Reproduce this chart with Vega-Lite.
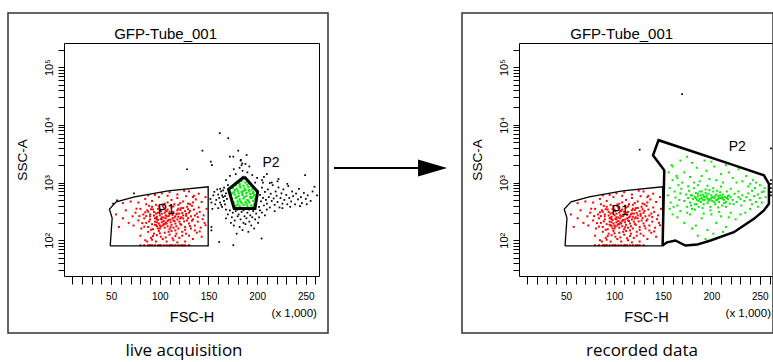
{
"$schema": "https://vega.github.io/schema/vega-lite/v6.json",
"padding": {"left": 6, "top": 11, "right": 0, "bottom": 0},
"spacing": 200,
"bounds": "flush",
"config": {"font": "Liberation Sans", "view": {"stroke": "#000", "strokeWidth": 1}, "axis": {"labelOverlap": false}},
"datasets": {
"red": [{"x":102,"y":650},{"x":118,"y":620},{"x":130,"y":700},{"x":95,"y":610},{"x":140,"y":640},{"x":125,"y":720},{"x":88,"y":600},{"x":110,"y":680},{"x":135,"y":590},
{"x":78,"y":450},{"x":85,"y":520},{"x":92,"y":480},{"x":99,"y":560},{"x":105,"y":430},{"x":112,"y":500},{"x":118,"y":540},{"x":124,"y":470},{"x":131,"y":420},{"x":137,"y":510},{"x":143,"y":460},{"x":147,"y":560},{"x":96,"y":410},{"x":108,"y":590},{"x":115,"y":420},{"x":127,"y":580},{"x":86,"y":420},{"x":70,"y":470},{"x":62,"y":440},{"x":121,"y":440},{"x":134,"y":560},
{"x":75,"y":300},{"x":80,"y":350},{"x":83,"y":280},{"x":87,"y":330},{"x":90,"y":260},{"x":92,"y":380},{"x":94,"y":310},{"x":96,"y":290},{"x":98,"y":350},{"x":100,"y":270},{"x":101,"y":320},{"x":103,"y":390},{"x":105,"y":300},{"x":107,"y":260},{"x":108,"y":340},{"x":110,"y":280},{"x":112,"y":370},{"x":114,"y":310},{"x":116,"y":260},{"x":118,"y":330},{"x":120,"y":290},{"x":122,"y":360},{"x":124,"y":270},{"x":126,"y":320},{"x":128,"y":380},{"x":130,"y":300},{"x":132,"y":260},{"x":135,"y":340},{"x":138,"y":290},{"x":141,"y":310},{"x":145,"y":270},{"x":148,"y":350},{"x":65,"y":330},{"x":55,"y":280},{"x":72,"y":260},{"x":89,"y":395},{"x":97,"y":255},{"x":104,"y":365},{"x":111,"y":395},{"x":119,"y":255},{"x":127,"y":265},{"x":133,"y":395},{"x":140,"y":370},{"x":85,"y":305},{"x":91,"y":345},{"x":99,"y":385},{"x":106,"y":325},{"x":113,"y":275},{"x":121,"y":335},{"x":129,"y":345},
{"x":73,"y":180},{"x":78,"y":220},{"x":81,"y":160},{"x":84,"y":240},{"x":86,"y":200},{"x":88,"y":170},{"x":90,"y":230},{"x":92,"y":190},{"x":93,"y":155},{"x":95,"y":210},{"x":96,"y":245},{"x":97,"y":175},{"x":98,"y":225},{"x":99,"y":195},{"x":100,"y":160},{"x":101,"y":235},{"x":102,"y":205},{"x":103,"y":180},{"x":104,"y":215},{"x":105,"y":165},{"x":106,"y":240},{"x":107,"y":195},{"x":108,"y":175},{"x":109,"y":225},{"x":110,"y":155},{"x":111,"y":205},{"x":112,"y":185},{"x":113,"y":240},{"x":114,"y":165},{"x":115,"y":215},{"x":116,"y":195},{"x":117,"y":175},{"x":118,"y":230},{"x":119,"y":160},{"x":120,"y":210},{"x":122,"y":185},{"x":124,"y":240},{"x":126,"y":170},{"x":128,"y":220},{"x":130,"y":195},{"x":132,"y":160},{"x":134,"y":230},{"x":136,"y":180},{"x":139,"y":210},{"x":142,"y":165},{"x":146,"y":200},{"x":68,"y":200},{"x":62,"y":240},{"x":58,"y":170},{"x":95,"y":185},{"x":98,"y":160},{"x":102,"y":250},{"x":105,"y":190},{"x":108,"y":215},{"x":100,"y":180},{"x":97,"y":205},
{"x":80,"y":120},{"x":85,"y":100},{"x":88,"y":140},{"x":91,"y":110},{"x":94,"y":130},{"x":96,"y":95},{"x":99,"y":145},{"x":101,"y":115},{"x":103,"y":105},{"x":105,"y":135},{"x":107,"y":95},{"x":110,"y":125},{"x":112,"y":145},{"x":114,"y":100},{"x":117,"y":130},{"x":120,"y":110},{"x":123,"y":140},{"x":126,"y":95},{"x":130,"y":120},{"x":134,"y":105},{"x":138,"y":135},{"x":143,"y":115},{"x":93,"y":118},{"x":106,"y":112},{"x":116,"y":118},{"x":127,"y":130},{"x":87,"y":95},{"x":100,"y":132},
{"x":80,"y":82},{"x":84,"y":82},{"x":88,"y":82},{"x":92,"y":82},{"x":95,"y":82},{"x":98,"y":82},{"x":101,"y":82},{"x":104,"y":82},{"x":107,"y":82},{"x":110,"y":82},{"x":113,"y":82},{"x":116,"y":82},{"x":119,"y":82},{"x":122,"y":82},{"x":126,"y":82},{"x":130,"y":82},{"x":90,"y":82},{"x":100,"y":82},{"x":111,"y":82},{"x":124,"y":82},
{"x":89,"y":212},{"x":94,"y":268},{"x":97,"y":232},{"x":102,"y":288},{"x":104,"y":248},{"x":107,"y":318},{"x":109,"y":262},{"x":111,"y":228},{"x":113,"y":302},{"x":115,"y":248},{"x":117,"y":282},{"x":119,"y":352},{"x":121,"y":238},{"x":123,"y":298},{"x":125,"y":212},{"x":127,"y":286},{"x":129,"y":242},{"x":131,"y":322},{"x":133,"y":218},{"x":136,"y":268},{"x":91,"y":152},{"x":96,"y":182},{"x":101,"y":172},{"x":106,"y":202},{"x":111,"y":168},{"x":116,"y":148},{"x":121,"y":192},{"x":126,"y":152},{"x":131,"y":176},{"x":136,"y":148},{"x":86,"y":262},{"x":82,"y":198},{"x":88,"y":312},{"x":93,"y":342},{"x":103,"y":418},{"x":108,"y":452},{"x":114,"y":386},{"x":119,"y":412},{"x":124,"y":362},{"x":129,"y":432},{"x":134,"y":452},{"x":139,"y":252},{"x":144,"y":232},{"x":147,"y":182},{"x":141,"y":142},{"x":92,"y":102},{"x":97,"y":122},{"x":113,"y":108},{"x":118,"y":92},{"x":123,"y":120},{"x":98,"y":300},{"x":102,"y":230},{"x":106,"y":270},{"x":110,"y":310},{"x":114,"y":220},{"x":118,"y":290},{"x":122,"y":250},{"x":100,"y":340},{"x":104,"y":190},{"x":109,"y":140},{"x":95,"y":240},{"x":90,"y":280},{"x":84,"y":172},{"x":79,"y":262},{"x":76,"y":352}],
"gL": [{"x":178,"y":400},{"x":182,"y":390},{"x":186,"y":410},{"x":190,"y":395},{"x":194,"y":400},{"x":197,"y":420},{"x":176,"y":450},{"x":180,"y":470},{"x":184,"y":440},{"x":188,"y":460},{"x":192,"y":450},{"x":196,"y":480},{"x":174,"y":520},{"x":178,"y":540},{"x":182,"y":510},{"x":186,"y":530},{"x":190,"y":500},{"x":194,"y":540},{"x":198,"y":520},{"x":173,"y":600},{"x":177,"y":620},{"x":181,"y":580},{"x":185,"y":610},{"x":189,"y":590},{"x":193,"y":630},{"x":197,"y":600},{"x":172,"y":700},{"x":176,"y":680},{"x":180,"y":720},{"x":184,"y":690},{"x":188,"y":740},{"x":192,"y":700},{"x":196,"y":680},{"x":175,"y":800},{"x":179,"y":780},{"x":183,"y":820},{"x":187,"y":790},{"x":191,"y":830},{"x":195,"y":760},{"x":178,"y":900},{"x":182,"y":940},{"x":186,"y":880},{"x":190,"y":920},{"x":194,"y":870},{"x":184,"y":1050},{"x":188,"y":1000},{"x":186,"y":1150},{"x":181,"y":1000},{"x":192,"y":980},{"x":179,"y":560},{"x":187,"y":560},{"x":195,"y":560},{"x":183,"y":470},{"x":191,"y":480},{"x":177,"y":390},{"x":196,"y":385},{"x":185,"y":650},{"x":189,"y":660},{"x":181,"y":650},{"x":177,"y":740},{"x":193,"y":560},{"x":186,"y":720},{"x":182,"y":860},{"x":189,"y":430},{"x":196,"y":650},{"x":174,"y":650},{"x":180,"y":420},{"x":192,"y":740}],
"kL": [{"x":158,"y":500},{"x":160,"y":620},{"x":162,"y":450},{"x":163,"y":700},{"x":164,"y":380},{"x":165,"y":560},{"x":166,"y":820},{"x":167,"y":420},{"x":168,"y":650},{"x":169,"y":520},{"x":160,"y":360},{"x":162,"y":780},{"x":164,"y":600},{"x":166,"y":480},{"x":168,"y":340},{"x":170,"y":900},{"x":161,"y":540},{"x":163,"y":410},{"x":165,"y":730},{"x":167,"y":580},{"x":155,"y":600},{"x":157,"y":420},{"x":159,"y":760},{"x":152,"y":520},{"x":153,"y":450},{"x":154,"y":350},{"x":156,"y":690},
{"x":172,"y":330},{"x":175,"y":300},{"x":178,"y":320},{"x":181,"y":280},{"x":184,"y":310},{"x":187,"y":260},{"x":190,"y":300},{"x":193,"y":270},{"x":196,"y":320},{"x":199,"y":290},{"x":202,"y":250},{"x":174,"y":250},{"x":177,"y":220},{"x":180,"y":260},{"x":183,"y":230},{"x":186,"y":200},{"x":189,"y":240},{"x":192,"y":210},{"x":195,"y":250},{"x":198,"y":230},{"x":201,"y":200},{"x":176,"y":180},{"x":182,"y":170},{"x":188,"y":190},{"x":194,"y":180},{"x":185,"y":150},{"x":191,"y":140},{"x":179,"y":130},{"x":197,"y":160},{"x":170,"y":280},{"x":168,"y":240},{"x":173,"y":200},{"x":205,"y":300},{"x":208,"y":270},{"x":180,"y":340},{"x":186,"y":330},{"x":192,"y":340},{"x":198,"y":345},{"x":203,"y":330},
{"x":202,"y":380},{"x":203,"y":610},{"x":204,"y":470},{"x":205,"y":820},{"x":206,"y":540},{"x":207,"y":400},{"x":208,"y":690},{"x":209,"y":500},{"x":210,"y":430},{"x":211,"y":760},{"x":212,"y":560},{"x":213,"y":370},{"x":214,"y":640},{"x":215,"y":480},{"x":216,"y":900},{"x":217,"y":530},{"x":218,"y":410},{"x":219,"y":700},{"x":220,"y":590},{"x":221,"y":460},{"x":222,"y":820},{"x":223,"y":370},{"x":224,"y":540},{"x":225,"y":650},{"x":226,"y":430},{"x":227,"y":760},{"x":228,"y":500},{"x":230,"y":610},{"x":231,"y":420},{"x":232,"y":870},{"x":233,"y":540},{"x":235,"y":470},{"x":236,"y":700},{"x":237,"y":580},{"x":239,"y":420},{"x":240,"y":640},{"x":242,"y":510},{"x":243,"y":780},{"x":245,"y":560},{"x":246,"y":440},{"x":248,"y":660},{"x":250,"y":520},{"x":252,"y":600},{"x":255,"y":480},{"x":257,"y":700},{"x":210,"y":340},{"x":218,"y":320},{"x":226,"y":360},{"x":234,"y":380},{"x":244,"y":390},{"x":213,"y":980},{"x":221,"y":1050},{"x":231,"y":950},{"x":206,"y":1000},{"x":251,"y":420},
{"x":178,"y":1400},{"x":182,"y":1800},{"x":185,"y":1600},{"x":190,"y":1500},{"x":188,"y":2100},{"x":195,"y":1350},{"x":176,"y":1700},{"x":192,"y":1900},{"x":200,"y":1200},{"x":205,"y":1100},{"x":210,"y":1400},{"x":215,"y":1000},{"x":172,"y":1300},{"x":168,"y":1100},{"x":183,"y":2400},{"x":198,"y":1000},{"x":207,"y":1250},{"x":222,"y":1150},
{"x":161.6,"y":7180},{"x":170.3,"y":5870},{"x":143.8,"y":3570},{"x":128,"y":1700},{"x":152.4,"y":2300},{"x":153.5,"y":2000},{"x":180.6,"y":3570},{"x":172,"y":2810},{"x":175.5,"y":2810},{"x":183.3,"y":2460},{"x":184.7,"y":2150},{"x":189.2,"y":3000},{"x":184,"y":2000},{"x":249.3,"y":1350},{"x":259,"y":845},{"x":261.6,"y":600},{"x":204.6,"y":107},{"x":175.5,"y":82},{"x":161,"y":93},{"x":153,"y":170},{"x":153,"y":148},{"x":73.4,"y":650},{"x":52,"y":430},{"x":56,"y":490}],
"gR": [{"x":172,"y":480},{"x":174,"y":620},{"x":175,"y":380},{"x":176,"y":540},{"x":177,"y":720},{"x":178,"y":450},{"x":179,"y":600},{"x":180,"y":350},{"x":181,"y":520},{"x":182,"y":800},{"x":183,"y":420},{"x":184,"y":660},{"x":185,"y":500},{"x":186,"y":580},{"x":187,"y":380},{"x":188,"y":700},{"x":189,"y":460},{"x":190,"y":540},{"x":191,"y":620},{"x":192,"y":420},{"x":193,"y":500},{"x":194,"y":760},{"x":195,"y":560},{"x":196,"y":440},{"x":197,"y":640},{"x":198,"y":520},{"x":199,"y":380},{"x":200,"y":600},{"x":201,"y":480},{"x":202,"y":700},{"x":203,"y":540},{"x":204,"y":420},{"x":205,"y":620},{"x":206,"y":500},{"x":207,"y":580},{"x":208,"y":460},{"x":209,"y":680},{"x":210,"y":540},{"x":211,"y":400},{"x":212,"y":620},{"x":213,"y":500},{"x":214,"y":560},{"x":215,"y":460},{"x":216,"y":700},{"x":217,"y":520},{"x":218,"y":600},{"x":219,"y":430},{"x":220,"y":560},{"x":222,"y":500},{"x":224,"y":640},{"x":226,"y":460},{"x":228,"y":560},{"x":230,"y":520},{"x":232,"y":600},{"x":234,"y":480},{"x":236,"y":560},{"x":183,"y":560},{"x":187,"y":480},{"x":191,"y":500},{"x":195,"y":600},{"x":199,"y":500},{"x":203,"y":460},{"x":207,"y":520},{"x":211,"y":560},{"x":185,"y":420},{"x":189,"y":600},{"x":193,"y":560},{"x":197,"y":480},{"x":201,"y":560},{"x":205,"y":500},{"x":209,"y":600},{"x":213,"y":440},{"x":217,"y":580},{"x":180,"y":600},{"x":184,"y":540},{"x":188,"y":520},{"x":192,"y":580},{"x":196,"y":520},{"x":200,"y":540},{"x":204,"y":580},{"x":208,"y":540},{"x":212,"y":520},{"x":216,"y":540},{"x":186,"y":640},{"x":190,"y":700},{"x":194,"y":660},{"x":198,"y":740},{"x":202,"y":800},{"x":206,"y":720},{"x":179,"y":400},{"x":183,"y":340},{"x":191,"y":360},{"x":199,"y":330},{"x":207,"y":370},{"x":215,"y":380},{"x":223,"y":420},{"x":231,"y":400},{"x":176,"y":860},{"x":186,"y":900},{"x":196,"y":880},{"x":210,"y":850},{"x":220,"y":780},{"x":228,"y":700},{"x":238,"y":650},{"x":240,"y":500},{"x":244,"y":580},{"x":248,"y":620},{"x":242,"y":720},{"x":246,"y":460},{"x":250,"y":540},{"x":252,"y":680},
{"x":165,"y":1200},{"x":172,"y":1500},{"x":180,"y":2200},{"x":185,"y":1800},{"x":190,"y":1300},{"x":195,"y":1600},{"x":200,"y":2300},{"x":205,"y":1100},{"x":210,"y":1400},{"x":215,"y":2000},{"x":222,"y":1200},{"x":228,"y":1700},{"x":175,"y":2800},{"x":168,"y":2400},{"x":160,"y":1900},{"x":188,"y":1050},{"x":198,"y":1150},{"x":212,"y":1000},{"x":232,"y":1050},{"x":240,"y":950},{"x":178,"y":1250},{"x":193,"y":2400},{"x":203,"y":1900},{"x":218,"y":1500},{"x":226,"y":1000},{"x":170,"y":1000},{"x":182,"y":1000},{"x":246,"y":1000},{"x":236,"y":1300},
{"x":165,"y":250},{"x":172,"y":200},{"x":178,"y":280},{"x":184,"y":180},{"x":190,"y":240},{"x":196,"y":150},{"x":200,"y":280},{"x":205,"y":200},{"x":210,"y":260},{"x":215,"y":170},{"x":220,"y":300},{"x":225,"y":230},{"x":230,"y":280},{"x":186,"y":120},{"x":194,"y":105},{"x":202,"y":130},{"x":212,"y":140},{"x":180,"y":160},{"x":175,"y":300},{"x":168,"y":320},{"x":160,"y":280},{"x":157,"y":350},{"x":192,"y":290},{"x":208,"y":310},{"x":218,"y":250},{"x":235,"y":300},{"x":240,"y":350},
{"x":155,"y":600},{"x":157,"y":800},{"x":158,"y":450},{"x":160,"y":1100},{"x":162,"y":700},{"x":163,"y":550},{"x":165,"y":400},{"x":166,"y":900},{"x":168,"y":650},{"x":169,"y":780},{"x":156,"y":1500},{"x":159,"y":2000},{"x":164,"y":1300},{"x":167,"y":500},{"x":161,"y":380},
{"x":245,"y":800},{"x":250,"y":900},{"x":254,"y":700},{"x":256,"y":560},{"x":252,"y":450},{"x":248,"y":380},{"x":243,"y":1100},{"x":255,"y":800},{"x":238,"y":860},{"x":242,"y":420}],
"kR": [{"x":126,"y":3710},{"x":169.8,"y":34000},{"x":261.5,"y":3900},{"x":261.5,"y":1100},{"x":261.5,"y":950},{"x":261.5,"y":800},{"x":261.5,"y":680},{"x":261.5,"y":600}],
"p1": [{"i":0,"x":49,"y":80},{"i":1,"x":149.7,"y":80},{"i":2,"x":149.7,"y":845},{"i":3,"x":108.5,"y":720},{"i":4,"x":74,"y":566},{"i":5,"x":55.2,"y":464},{"i":6,"x":48.2,"y":346},{"i":7,"x":51,"y":242},{"i":8,"x":50,"y":138},{"i":9,"x":49,"y":80}],
"p2L": [{"i":0,"x":186.8,"y":1262},{"i":1,"x":200.5,"y":692},{"i":2,"x":197.8,"y":356},{"i":3,"x":176.4,"y":356},{"i":4,"x":170.6,"y":762},{"i":5,"x":186.8,"y":1262}],
"p2R": [{"i":0,"x":149.7,"y":81},{"i":1,"x":151.4,"y":1630},{"i":2,"x":139.8,"y":2970},{"i":3,"x":145.5,"y":5420},{"i":4,"x":221.5,"y":2040},{"i":5,"x":254.2,"y":1335},{"i":6,"x":259.4,"y":953},{"i":7,"x":259.4,"y":428},{"i":8,"x":254.2,"y":329},{"i":9,"x":243.9,"y":235},{"i":10,"x":223.2,"y":138},{"i":11,"x":199.1,"y":99},{"i":12,"x":185.3,"y":84},{"i":13,"x":173.2,"y":81},{"i":14,"x":162.8,"y":99},{"i":15,"x":154.2,"y":92},{"i":16,"x":149.7,"y":81}],
"labL": [{"t":"P1","x":106.7,"y":333},{"t":"P2","x":214.2,"y":2160}],
"labR": [{"t":"P1","x":105.9,"y":315},{"t":"P2","x":226.7,"y":4140}]
},
"hconcat": [
{
"width": 255, "height": 233,
"resolve": {"axis": {"x": "independent", "y": "independent"}},
"layer": [
{"data": {"values": [{}]}, "mark": {"type": "rect", "filled": false, "color": "#333", "stroke": "#333", "strokeWidth": 1.5, "clip": false},
 "encoding": {"x": {"datum": -56.06, "type": "quantitative", "axis": null}, "x2": {"datum": 272.85}, "y": {"datum": 867800, "type": "quantitative", "scale": {"type": "log"}, "axis": null}, "y2": {"datum": 2.47}}},
{"data": {"name": "red"}, "mark": {"type": "square", "size": 4, "color": "#ff0000", "opacity": 1},
 "encoding": {
  "x": {"field": "x", "type": "quantitative", "scale": {"domain": [1.5, 263.6], "nice": false, "zero": false},
   "axis": {"orient": "bottom", "title": "FSC-H", "values": [50,100,150,200,250], "tickCount": 100, "tickSize": 8, "tickColor": "#000", "domain": false, "grid": false, "labelFontSize": 10, "labelColor": "#000", "labelPadding": 7, "labelOverlap": false, "labelFlush": false, "titleFontSize": 14.5, "titleFontWeight": "normal", "titleColor": "#000", "titlePadding": 9}},
  "y": {"field": "y", "type": "quantitative", "scale": {"type": "log", "domain": [24, 262144], "nice": false},
   "axis": {"orient": "left", "title": "SSC-A", "values": [100,1000,10000,100000], "tickCount": 100, "labelExpr": "datum.value === 100 ? '10²' : datum.value === 1000 ? '10³' : datum.value === 10000 ? '10⁴' : '10⁵'", "labelAngle": 270, "labelAlign": "center", "labelBaseline": "bottom", "tickSize": 6, "tickColor": "#000", "domain": false, "grid": false, "labelFontSize": 11, "labelColor": "#000", "labelPadding": 4, "labelOverlap": false, "labelFlush": false, "titleFontSize": 13.5, "titleFontWeight": "normal", "titleColor": "#000", "titlePadding": 14}}}},
{"data": {"name": "gL"}, "mark": {"type": "square", "size": 5, "color": "#00ee00", "opacity": 1},
 "encoding": {"x": {"field": "x", "type": "quantitative", "axis": null}, "y": {"field": "y", "type": "quantitative", "scale": {"type": "log"}, "axis": null}}},
{"data": {"name": "kL"}, "mark": {"type": "square", "size": 3, "color": "#000", "opacity": 1},
 "encoding": {
  "x": {"field": "x", "type": "quantitative", "axis": {"orient": "bottom", "title": null, "labels": false, "values": [10,20,30,40,50,60,70,80,90,100,110,120,130,140,150,160,170,180,190,200,210,220,230,240,250,260], "tickCount": 100, "tickSize": 8, "tickColor": "#000", "domain": false, "grid": false}},
  "y": {"field": "y", "type": "quantitative", "scale": {"type": "log"}, "axis": {"orient": "left", "title": null, "labels": false, "values": [30,40,50,60,70,80,90,200,300,400,500,600,700,800,900,2000,3000,4000,5000,6000,7000,8000,9000,20000,30000,40000,50000,60000,70000,80000,90000,200000], "tickCount": 100, "tickSize": 6, "tickColor": "#000", "domain": false, "grid": false}}}},
{"data": {"name": "p1"}, "mark": {"type": "line", "color": "#000", "strokeWidth": 1.3},
 "encoding": {"x": {"field": "x", "type": "quantitative", "axis": null}, "y": {"field": "y", "type": "quantitative", "scale": {"type": "log"}, "axis": null}, "order": {"field": "i", "type": "quantitative"}}},
{"data": {"name": "p2L"}, "mark": {"type": "line", "color": "#000", "strokeWidth": 3},
 "encoding": {"x": {"field": "x", "type": "quantitative", "axis": null}, "y": {"field": "y", "type": "quantitative", "scale": {"type": "log"}, "axis": null}, "order": {"field": "i", "type": "quantitative"}}},
{"data": {"name": "labL"}, "mark": {"type": "text", "fontSize": 14, "color": "#000", "align": "center", "baseline": "middle"},
 "encoding": {"x": {"field": "x", "type": "quantitative", "axis": null}, "y": {"field": "y", "type": "quantitative", "scale": {"type": "log"}, "axis": null}, "text": {"field": "t"}}},
{"data": {"values": [{}]}, "mark": {"type": "text", "text": "GFP-Tube_001", "fontSize": 15, "color": "#000", "align": "left", "baseline": "alphabetic", "clip": false},
 "encoding": {"x": {"datum": 53.1, "type": "quantitative", "axis": null}, "y": {"datum": 304500, "type": "quantitative", "scale": {"type": "log"}, "axis": null}}},
{"data": {"values": [{}]}, "mark": {"type": "text", "text": "(x 1,000)", "fontSize": 11.5, "color": "#000", "align": "right", "baseline": "middle", "clip": false},
 "encoding": {"x": {"datum": 261.5, "type": "quantitative", "axis": null}, "y": {"datum": 5.27, "type": "quantitative", "scale": {"type": "log"}, "axis": null}}},
{"data": {"values": [{}]}, "mark": {"type": "text", "text": "live acquisition", "font": "Open Sans", "fontSize": 17, "color": "#000", "align": "center", "baseline": "middle", "clip": false},
 "encoding": {"x": {"datum": 124.8, "type": "quantitative", "axis": null}, "y": {"datum": 1.2, "type": "quantitative", "scale": {"type": "log"}, "axis": null}}},
{"data": {"values": [{}]}, "mark": {"type": "rule", "color": "#000", "strokeWidth": 2, "clip": false},
 "encoding": {"x": {"datum": 279.0, "type": "quantitative", "axis": null}, "x2": {"datum": 368}, "y": {"datum": 1787, "type": "quantitative", "scale": {"type": "log"}, "axis": null}}},
{"data": {"values": [{}]}, "mark": {"type": "point", "shape": "M-1,-0.59L1,0L-1,0.59Z", "size": 841, "filled": true, "color": "#000", "opacity": 1, "clip": false},
 "encoding": {"x": {"datum": 380.3, "type": "quantitative", "axis": null}, "y": {"datum": 1787, "type": "quantitative", "scale": {"type": "log"}, "axis": null}}}
]
},
{
"width": 254, "height": 233,
"resolve": {"axis": {"x": "independent", "y": "independent"}},
"layer": [
{"data": {"values": [{}]}, "mark": {"type": "rect", "filled": false, "color": "#333", "stroke": "#333", "strokeWidth": 1.5, "clip": false},
 "encoding": {"x": {"datum": -57.3, "type": "quantitative", "axis": null}, "x2": {"datum": 263.6}, "y": {"datum": 867800, "type": "quantitative", "scale": {"type": "log"}, "axis": null}, "y2": {"datum": 2.47}}},
{"data": {"name": "red"}, "mark": {"type": "square", "size": 4, "color": "#ff0000", "opacity": 1},
 "encoding": {
  "x": {"field": "x", "type": "quantitative", "scale": {"domain": [1.5, 263.6], "nice": false, "zero": false},
   "axis": {"orient": "bottom", "title": "FSC-H", "values": [50,100,150,200,250], "tickCount": 100, "tickSize": 8, "tickColor": "#000", "domain": false, "grid": false, "labelFontSize": 10, "labelColor": "#000", "labelPadding": 7, "labelOverlap": false, "labelFlush": false, "titleFontSize": 14.5, "titleFontWeight": "normal", "titleColor": "#000", "titlePadding": 9}},
  "y": {"field": "y", "type": "quantitative", "scale": {"type": "log", "domain": [24, 262144], "nice": false},
   "axis": {"orient": "left", "title": "SSC-A", "values": [100,1000,10000,100000], "tickCount": 100, "labelExpr": "datum.value === 100 ? '10²' : datum.value === 1000 ? '10³' : datum.value === 10000 ? '10⁴' : '10⁵'", "labelAngle": 270, "labelAlign": "center", "labelBaseline": "bottom", "tickSize": 6, "tickColor": "#000", "domain": false, "grid": false, "labelFontSize": 11, "labelColor": "#000", "labelPadding": 4, "labelOverlap": false, "labelFlush": false, "titleFontSize": 13.5, "titleFontWeight": "normal", "titleColor": "#000", "titlePadding": 14}}}},
{"data": {"name": "gR"}, "mark": {"type": "square", "size": 4, "color": "#00ee00", "opacity": 1},
 "encoding": {"x": {"field": "x", "type": "quantitative", "axis": null}, "y": {"field": "y", "type": "quantitative", "scale": {"type": "log"}, "axis": null}}},
{"data": {"name": "kR"}, "mark": {"type": "square", "size": 3, "color": "#000", "opacity": 1},
 "encoding": {
  "x": {"field": "x", "type": "quantitative", "axis": {"orient": "bottom", "title": null, "labels": false, "values": [10,20,30,40,50,60,70,80,90,100,110,120,130,140,150,160,170,180,190,200,210,220,230,240,250,260], "tickCount": 100, "tickSize": 8, "tickColor": "#000", "domain": false, "grid": false}},
  "y": {"field": "y", "type": "quantitative", "scale": {"type": "log"}, "axis": {"orient": "left", "title": null, "labels": false, "values": [30,40,50,60,70,80,90,200,300,400,500,600,700,800,900,2000,3000,4000,5000,6000,7000,8000,9000,20000,30000,40000,50000,60000,70000,80000,90000,200000], "tickCount": 100, "tickSize": 6, "tickColor": "#000", "domain": false, "grid": false}}}},
{"data": {"name": "p1"}, "mark": {"type": "line", "color": "#000", "strokeWidth": 1.3},
 "encoding": {"x": {"field": "x", "type": "quantitative", "axis": null}, "y": {"field": "y", "type": "quantitative", "scale": {"type": "log"}, "axis": null}, "order": {"field": "i", "type": "quantitative"}}},
{"data": {"name": "p2R"}, "mark": {"type": "line", "color": "#000", "strokeWidth": 2.5},
 "encoding": {"x": {"field": "x", "type": "quantitative", "axis": null}, "y": {"field": "y", "type": "quantitative", "scale": {"type": "log"}, "axis": null}, "order": {"field": "i", "type": "quantitative"}}},
{"data": {"name": "labR"}, "mark": {"type": "text", "fontSize": 14, "color": "#000", "align": "center", "baseline": "middle"},
 "encoding": {"x": {"field": "x", "type": "quantitative", "axis": null}, "y": {"field": "y", "type": "quantitative", "scale": {"type": "log"}, "axis": null}, "text": {"field": "t"}}},
{"data": {"values": [{}]}, "mark": {"type": "text", "text": "GFP-Tube_001", "fontSize": 15, "color": "#000", "align": "left", "baseline": "alphabetic", "clip": false},
 "encoding": {"x": {"datum": 54.4, "type": "quantitative", "axis": null}, "y": {"datum": 304500, "type": "quantitative", "scale": {"type": "log"}, "axis": null}}},
{"data": {"values": [{}]}, "mark": {"type": "text", "text": "(x 1,000)", "fontSize": 11.5, "color": "#000", "align": "right", "baseline": "middle", "clip": false},
 "encoding": {"x": {"datum": 261.5, "type": "quantitative", "axis": null}, "y": {"datum": 5.27, "type": "quantitative", "scale": {"type": "log"}, "axis": null}}},
{"data": {"values": [{}]}, "mark": {"type": "text", "text": "recorded data", "font": "Open Sans", "fontSize": 17, "color": "#000", "align": "center", "baseline": "middle", "clip": false},
 "encoding": {"x": {"datum": 128.4, "type": "quantitative", "axis": null}, "y": {"datum": 1.2, "type": "quantitative", "scale": {"type": "log"}, "axis": null}}}
]
}
]
}
